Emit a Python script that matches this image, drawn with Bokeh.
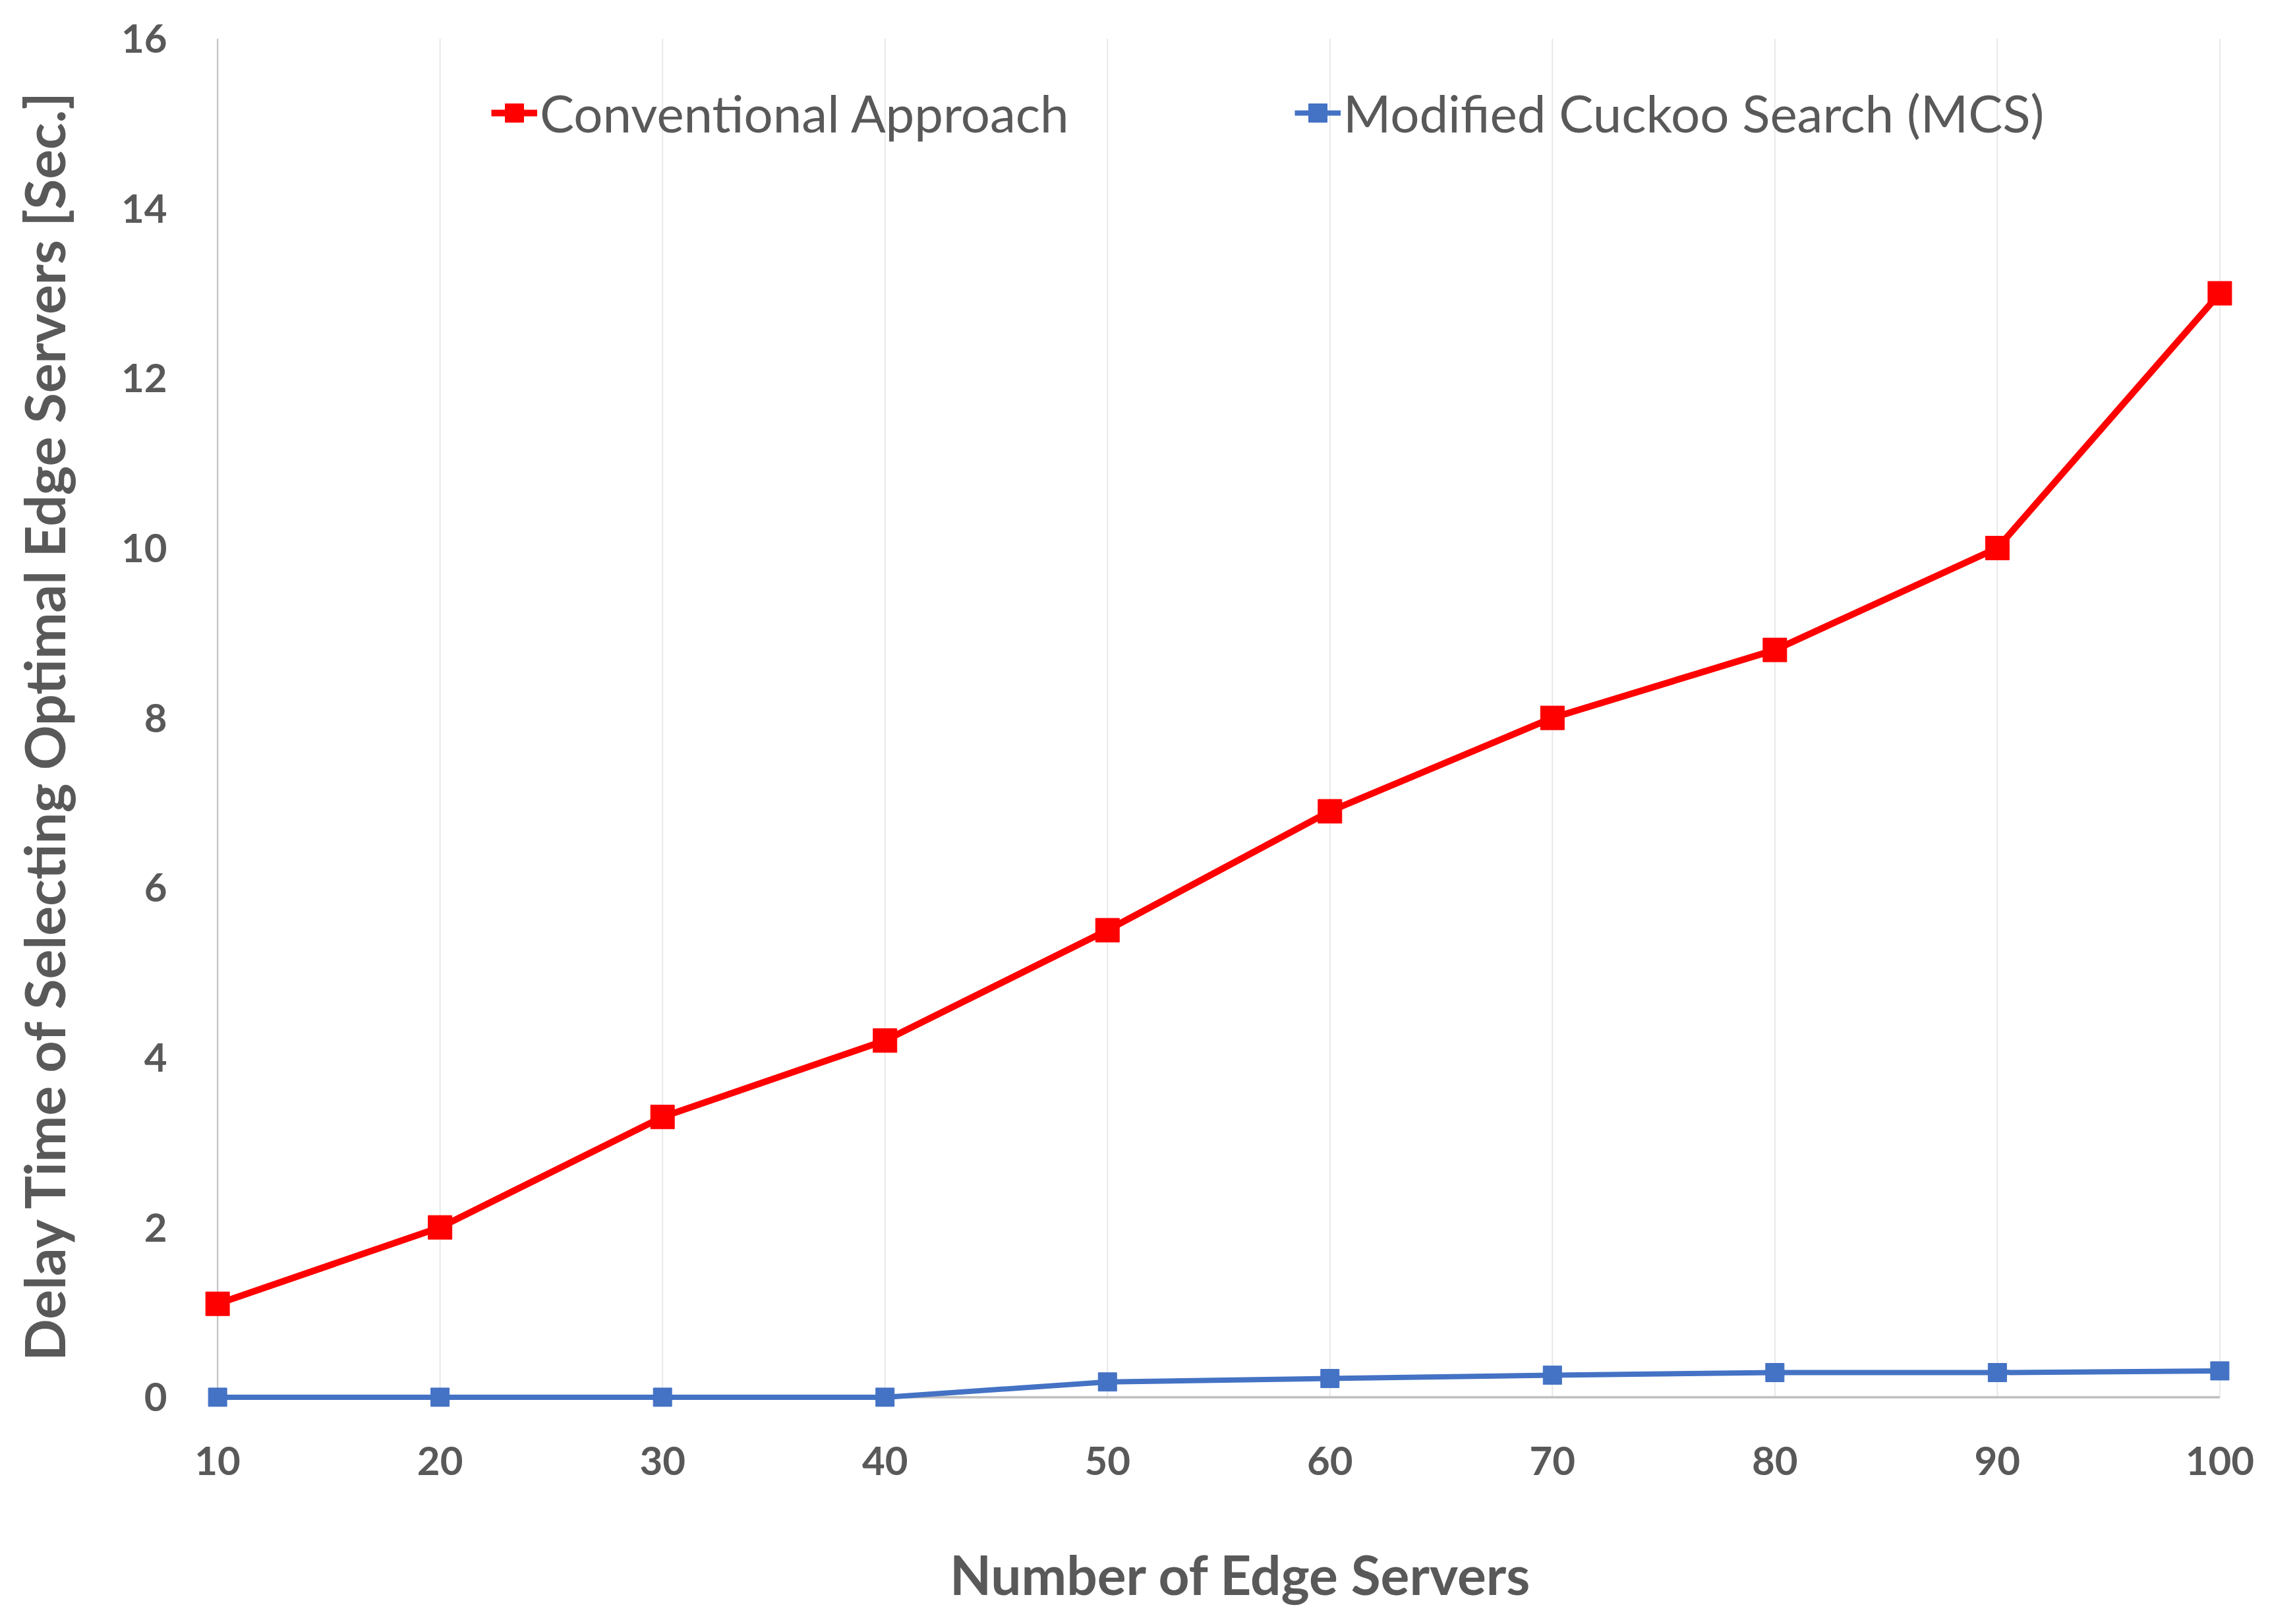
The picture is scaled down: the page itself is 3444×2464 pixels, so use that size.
from bokeh.plotting import figure
from bokeh.models import Range1d, FixedTicker, Legend, LegendItem, LinearAxis
from bokeh.embed import file_html
from bokeh.resources import INLINE

# data
servers = [10, 20, 30, 40, 50, 60, 70, 80, 90, 100]
conventional = [1.1, 2.0, 3.3, 4.2, 5.5, 6.9, 8.0, 8.8, 10.0, 13.0]
mcs = [0.0, 0.0, 0.0, 0.0, 0.18, 0.22, 0.26, 0.29, 0.29, 0.31]
y_ticks = [0, 2, 4, 6, 8, 10, 12, 14, 16]
series_names = ["Conventional Approach", "Modified Cuckoo Search (MCS)"]
x_title = "Number of Edge Servers"
y_title = "Delay Time of Selecting Optimal Edge Servers [Sec.]"

RED = "#FF0000"
BLUE = "#4472C4"
TXT = "#595959"
FONT = "Lato"

pad_x = 0.7
pad_y = 0.16
p = figure(width=3428, height=2448, output_backend="svg", toolbar_location=None,
           x_range=Range1d(servers[0] - pad_x, servers[-1] + pad_x),
           y_range=Range1d(-pad_y, y_ticks[-1]))
p.min_border_left = 306
p.min_border_right = 37
p.min_border_top = 58
p.min_border_bottom = 308
p.outline_line_color = None
p.xgrid.visible = False
p.ygrid.visible = False
p.background_fill_color = "white"
p.border_fill_color = "white"

# vertical gridlines
p.segment(x0=servers[1:], y0=[y_ticks[0]] * (len(servers) - 1), x1=servers[1:],
          y1=[y_ticks[-1]] * (len(servers) - 1), line_color="#E8E8E8", line_width=2)
p.segment(x0=[servers[0]], y0=[y_ticks[0]], x1=[servers[0]], y1=[y_ticks[-1]],
          line_color="#C8C8C8", line_width=2.5)
# horizontal axis line at 0
p.segment(x0=[servers[0]], y0=[y_ticks[0]], x1=[servers[-1]], y1=[y_ticks[0]],
          line_color="#BFBFBF", line_width=3.5)

bl = p.line(servers, mcs, line_color=BLUE, line_width=8)
bs = p.scatter(servers, mcs, marker="square", size=28, fill_color=BLUE, line_color=BLUE)
rl = p.line(servers, conventional, line_color=RED, line_width=10)
rs = p.scatter(servers, conventional, marker="square", size=36, fill_color=RED, line_color=RED)

xaxis = p.xaxis[0]
yaxis = p.yaxis[0]
for ax in (xaxis, yaxis):
    ax.axis_line_color = None
    ax.major_tick_line_color = None
    ax.minor_tick_line_color = None
    ax.major_label_text_font = FONT
    ax.major_label_text_font_style = "bold"
    ax.major_label_text_font_size = "60px"
    ax.major_label_text_color = TXT

xaxis.ticker = FixedTicker(ticks=servers)
yaxis.ticker = FixedTicker(ticks=y_ticks)
xaxis.major_label_standoff = 48
yaxis.major_label_standoff = 47

yaxis.axis_label = y_title
yaxis.axis_label_text_font = FONT
yaxis.axis_label_text_font_style = "bold"
yaxis.axis_label_text_font_size = "84px"
yaxis.axis_label_text_color = TXT
yaxis.axis_label_standoff = 64

# x-axis title, set slightly right of the plot centre as in the original
x_title_at = (servers[0] + servers[-1]) // 2 + 1
title_axis = LinearAxis(ticker=FixedTicker(ticks=[x_title_at]),
                        major_label_overrides={x_title_at: x_title},
                        axis_line_color=None, major_tick_line_color=None,
                        minor_tick_line_color=None,
                        major_label_text_font=FONT, major_label_text_font_style="bold",
                        major_label_text_font_size="82px", major_label_text_color=TXT,
                        major_label_standoff=92)
p.add_layout(title_axis, "below")

def make_legend(label, renderers, loc):
    lg = Legend(items=[LegendItem(label=label, renderers=renderers)], location=loc,
                orientation="horizontal", padding=0, margin=0, spacing=0,
                glyph_width=70, glyph_height=90, label_standoff=4,
                label_text_font=FONT, label_text_font_size="78px",
                label_text_color=TXT, border_line_color=None,
                background_fill_alpha=0)
    p.add_layout(lg, "center")

make_legend(series_names[0], [rl, rs], (439, 1922))
make_legend(series_names[1], [bl, bs], (1658, 1922))

open("out.html", "w").write(file_html(p, INLINE))
